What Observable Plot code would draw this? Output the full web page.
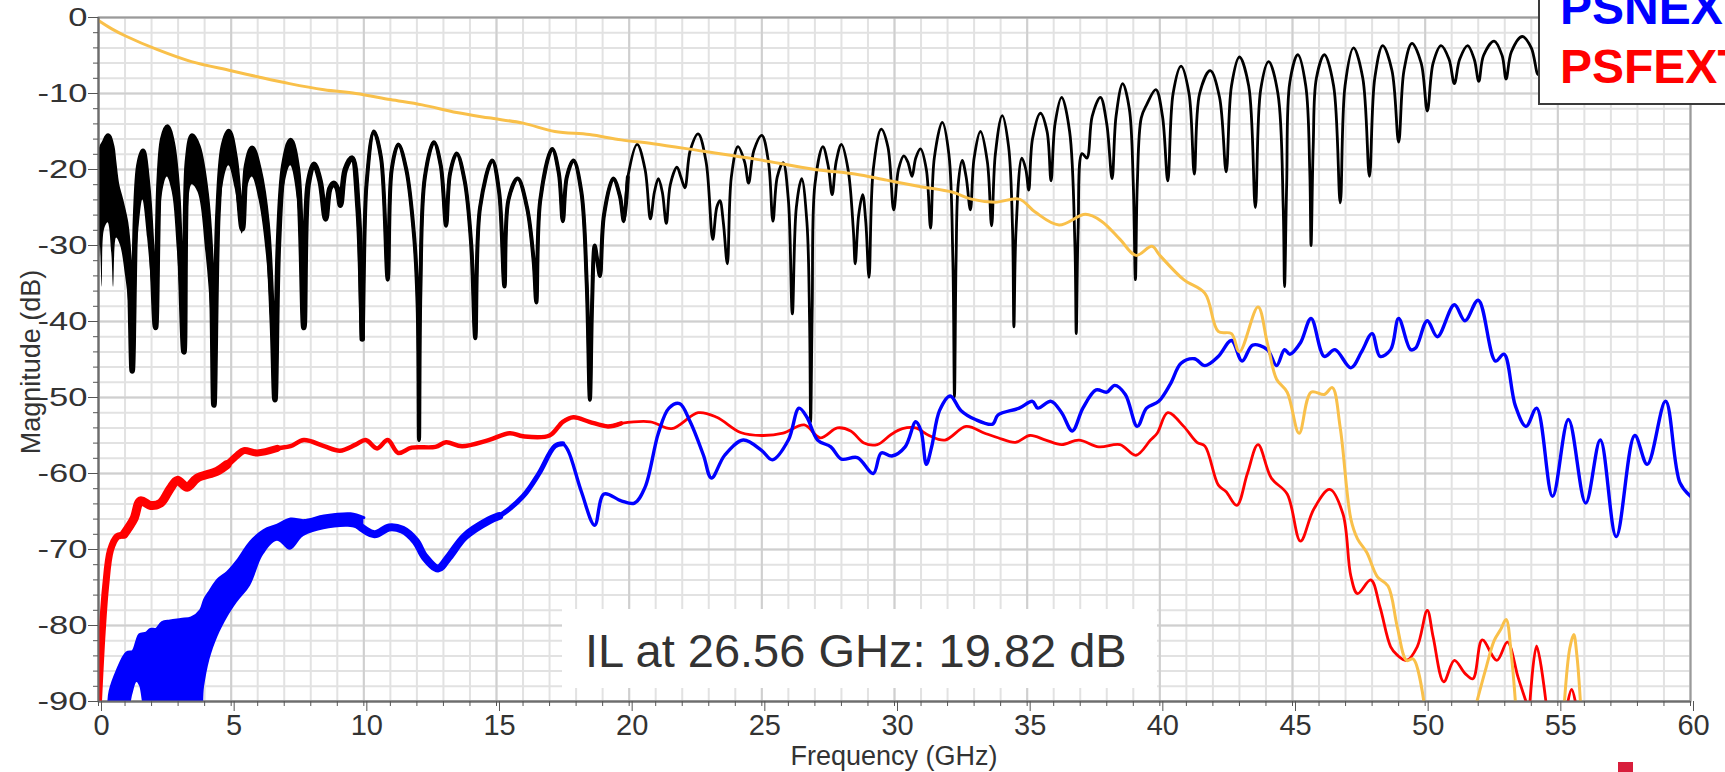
<!DOCTYPE html>
<html>
<head>
<meta charset="utf-8">
<script src="https://cdn.jsdelivr.net/npm/d3@7"></script>
<script src="https://cdn.jsdelivr.net/npm/@observablehq/plot@0.6"></script>
<style>
html,body{margin:0;padding:0;background:#fff;overflow:hidden;}
#wrap{position:relative;width:1725px;height:772px;overflow:hidden;font-family:"Liberation Sans",Arial,sans-serif;}
#chart svg{display:block;}
.legend{position:absolute;left:1538px;top:-40px;width:240px;height:145px;background:#fff;border:2px solid #3a3a3a;box-sizing:border-box;}
.lg{position:absolute;left:1560px;font-weight:bold;font-size:48px;line-height:48px;white-space:nowrap;}
.note{position:absolute;left:562px;top:609px;width:595px;height:79px;background:#fff;}
.noteText{position:absolute;left:585px;top:627px;font-size:47px;line-height:47px;color:#333;white-space:nowrap;}
.xt{position:absolute;left:0;width:1788px;top:742px;text-align:center;font-size:27px;line-height:28px;color:#333;}
.yt{position:absolute;left:31px;top:362px;font-size:27px;line-height:28px;color:#333;white-space:nowrap;transform:translate(-50%,-50%) rotate(-90deg);}
.mark{position:absolute;left:1618px;top:762px;width:15px;height:10px;background:#d81e3c;}
</style>
</head>
<body>
<div id="wrap">
  <div id="chart"></div>
  <div class="note"></div>
  <div class="noteText">IL at 26.56 GHz: 19.82 dB</div>
  <div class="legend"></div>
  <div class="lg" style="top:-16px;color:#0000ff">PSNEXT</div>
  <div class="lg" style="top:43px;color:#ff0000">PSFEXT</div>
  <div class="xt">Frequency (GHz)</div>
  <div class="yt">Magnitude (dB)</div>
  <div class="mark"></div>
</div>
<script>
// ---- tick labels ----
const xTicks = [0, 5, 10, 15, 20, 25, 30, 35, 40, 45, 50, 55, 60];
const yTicks = [0, -10, -20, -30, -40, -50, -60, -70, -80, -90];

// ---- insertion loss (orange) ----
const ilFreq = [0.0,0.5,1.0,2.2,3.5,5.0,6.0,7.2,8.5,9.7,11.0,12.2,13.5,14.7,16.0,17.2,18.5,19.7,20.9,22.8,24.7,27.0,28.5,29.7,30.9,32.2,32.9,33.8,34.7,35.3,36.2,37.2,37.8,38.5,39.1,39.7,40.0,40.9,41.7,42.2,42.7,43.0,43.7,44.05,44.4,44.8,45.25,45.7,46.2,46.5,46.8,47.2,47.45,47.8,48.2,48.6,48.95,49.3,49.55,49.95,51.0,51.95,52.3,52.6,52.85,53.05,53.25,53.4,54.3,55.25,55.45,55.6,55.72,55.85];
const ilDb   = [-0.4,-1.5,-2.4,-4.2,-5.8,-7.0,-7.8,-8.7,-9.5,-10.0,-10.8,-11.5,-12.5,-13.2,-13.9,-15.0,-15.4,-16.1,-16.6,-17.6,-18.6,-20.0,-20.6,-21.4,-22.2,-23.0,-23.9,-24.3,-23.9,-25.6,-27.3,-25.9,-26.8,-29.2,-31.3,-30.1,-31.3,-34.5,-36.3,-41.3,-41.6,-44.0,-38.1,-42.8,-47.6,-49.3,-54.7,-49.3,-49.6,-48.7,-54.0,-66.0,-68.6,-70.4,-73.6,-74.8,-80.2,-84.6,-84.4,-90,null,-90,-85.5,-82.0,-80.5,-79.2,-84.0,-90,null,-90,-83.0,-81.2,-84.0,-90];

// ---- return loss (black): upper trace ----
const rlFreq = [0.00,0.07,0.14,0.22,0.36,0.50,0.57,0.68,0.83,1.02,1.15,1.27,1.40,1.52,1.67,1.85,2.00,2.15,2.28,2.42,2.59,2.78,2.98,3.22,3.35,3.53,3.75,4.05,4.25,4.35,4.50,4.70,4.91,5.15,5.42,5.58,5.79,6.05,6.35,6.55,6.65,6.78,6.98,7.24,7.50,7.74,7.90,8.12,8.35,8.56,8.72,8.87,9.00,9.12,9.30,9.56,9.78,9.94,10.10,10.38,10.65,10.90,11.05,11.30,11.60,11.90,12.03,12.08,12.13,12.30,12.64,12.90,13.10,13.25,13.50,13.80,14.05,14.20,14.38,14.84,15.10,15.30,15.45,15.80,16.15,16.40,16.50,16.65,17.10,17.35,17.50,17.65,17.90,18.20,18.40,18.52,18.60,18.70,18.80,18.90,19.05,19.40,19.65,19.80,19.95,20.30,20.60,20.80,20.95,21.10,21.25,21.40,21.55,21.80,21.95,22.10,22.30,22.60,22.90,23.15,23.30,23.42,23.55,23.70,23.85,24.10,24.35,24.50,24.70,25.00,25.25,25.42,25.58,25.80,26.00,26.15,26.30,26.50,26.70,26.80,26.84,26.90,27.00,27.30,27.50,27.65,27.80,28.00,28.25,28.45,28.52,28.65,28.80,28.92,29.04,29.20,29.50,29.75,29.97,30.15,30.35,30.50,30.66,30.80,30.98,31.20,31.36,31.50,31.80,32.05,32.20,32.26,32.32,32.40,32.55,32.70,32.86,33.00,33.24,33.50,33.66,33.80,34.06,34.30,34.45,34.50,34.58,34.80,34.95,35.06,35.20,35.50,35.75,35.90,36.05,36.30,36.60,36.80,36.85,36.92,37.07,37.25,37.45,37.76,38.00,38.20,38.35,38.60,38.85,39.00,39.08,39.15,39.30,39.50,39.85,40.10,40.30,40.50,40.80,41.10,41.30,41.50,41.90,42.25,42.50,42.70,43.00,43.35,43.60,43.80,44.10,44.45,44.65,44.70,44.78,44.90,45.20,45.50,45.65,45.70,45.78,45.90,46.20,46.55,46.80,46.98,47.30,47.65,47.90,48.10,48.40,48.75,49.00,49.20,49.50,49.85,50.08,50.30,50.60,50.90,51.10,51.30,51.60,51.85,52.02,52.20,52.60,52.90,53.05,53.25,53.66,54.00,54.25,54.40];
const rlDb   = [-22,-18,-17,-16.5,-15.6,-17,-19,-22,-24,-27,-32,-46.5,-26,-19.5,-17.6,-22,-30,-40.8,-22,-16,-14.4,-16.5,-23,-44,-19,-15.6,-17,-23,-33,-51,-26,-17,-15,-18.5,-27.8,-19.5,-17.2,-20,-27,-40,-50.3,-30,-19.5,-16.2,-20,-40.8,-22,-19.3,-21.5,-26.5,-22.5,-21.8,-22.5,-24.7,-20,-18.5,-25,-42.3,-22,-15,-18.5,-34.5,-20,-16.7,-20,-29,-38,-55.6,-36,-21,-16.4,-19.5,-27.4,-20.5,-17.9,-21.5,-30,-42.2,-25,-18.8,-23,-35.4,-24,-21.2,-25,-32,-37.5,-24,-17.3,-20.5,-26.8,-21,-18.8,-23,-35,-50.3,-38,-30,-32,-34,-26,-21.2,-23.5,-26.8,-21,-16.7,-20,-26.5,-23,-21.2,-23,-27.1,-22,-19.7,-21,-22.4,-17.5,-15.3,-19,-29.2,-25,-24.1,-27,-32.4,-21,-17.0,-19,-21.8,-17.5,-15.5,-19,-26.8,-21,-19.1,-24,-39,-25,-21.2,-27,-40,-53.2,-38,-22,-17.0,-19.5,-23.3,-19,-16.7,-20,-28,-32.4,-26,-23.3,-27,-34.2,-20,-14.7,-17,-25.3,-20,-18.2,-19,-20.9,-18.5,-17.3,-20,-27.7,-18.5,-13.8,-18,-32,-49.9,-32,-22,-18.8,-21,-25.3,-18.5,-15.0,-19,-27.4,-18,-12.9,-17,-28,-40.7,-28,-18.5,-20,-22.7,-16,-12.6,-15,-21.5,-14,-10.5,-15,-30,-41.6,-28,-17.9,-18.5,-13,-10.5,-14,-21.2,-13,-8.7,-12,-22,-34.5,-22,-13.2,-11.5,-9.5,-13,-21.5,-10,-6.4,-10,-20.6,-10,-7.0,-10.5,-20.3,-9,-5.2,-9,-25,-9.5,-5.8,-10,-25,-35.4,-22,-8.5,-4.9,-9,-20,-30,-17,-8,-4.9,-9,-24.4,-9,-4.0,-8,-20.9,-8,-3.7,-7,-16.4,-7,-3.4,-6,-12.3,-6,-3.7,-5.5,-8.7,-5.5,-3.7,-5.5,-8.4,-5,-3.1,-5,-8.1,-4.5,-2.5,-4,-7.5,-5];
// lower edge of the dense black band (first 46 frequencies of rlFreq, 0 - 7.74 GHz)
const rlLowDb = [-36,-30,-35.5,-28,-27,-31,-35.5,-29,-30,-34,-38,-46.5,-34,-28,-24,-29,-35,-40.8,-30,-23,-21,-23,-31,-44,-28,-22,-23,-31,-40,-51,-34,-22,-19.5,-22.5,-28.5,-23,-21,-24,-32,-44,-50.3,-35,-23,-19.5,-24,-40.8];

// ---- PSNEXT (blue) ----
const nextBandFreq = [0.39,0.44,0.70,1.06,1.30,1.45,1.55,1.80,1.96,2.17,2.40,2.70,3.10,3.50,3.85,4.00,4.20,4.50,4.86,5.23,5.73,6.23,6.74,7.24,7.74,8.50,9.50,10.0];
const nextBandHi   = [-90,-88.6,-86,-83.6,-83.4,-82,-81.2,-81,-80.5,-80.5,-79.6,-79.4,-79.2,-79,-78,-76.6,-75.5,-74,-73,-71.5,-69,-67.5,-66.8,-66,-66.2,-65.6,-65.3,-65.8];
const nextBandLo   = [-90.5,-92,-92,-92,-89,-87.5,-88,-92,-92,-92,-92,-92,-92,-92,-92,-88,-84.5,-81.5,-79,-77,-74.8,-70.7,-68.9,-70.1,-68.3,-67.4,-67.1,-67.6];
const nextFreq = [9.69,10.4,10.95,11.45,11.95,12.3,12.8,13.2,13.8,14.7,15.1,16.0,16.6,17.2,17.5,17.7,18.2,18.7,19.05,19.7,20.2,20.6,21.1,21.5,21.9,22.3,22.8,23.1,23.6,24.3,25.0,25.4,26.0,26.4,26.7,27.1,27.6,28.0,28.6,29.2,29.5,29.9,30.4,30.8,31.0,31.2,31.4,31.7,32.1,32.5,33.05,33.7,33.9,34.7,35.2,35.4,35.9,36.3,36.7,37.1,37.6,38.0,38.3,38.7,39.15,39.5,39.96,40.4,40.8,41.3,41.7,42.2,42.7,43.1,43.5,44.05,44.4,44.7,44.9,45.3,45.7,46.2,46.6,47.2,47.6,48.0,48.3,48.7,49.0,49.45,49.64,50.08,50.46,51.1,51.5,52.0,52.65,52.97,53.4,53.8,54.2,54.8,55.4,56.05,56.6,57.2,57.9,58.37,59.06,59.6,60.0];
const nextDb   = [-66.5,-68,-67.1,-67.4,-68.9,-71.0,-72.5,-71.0,-68.3,-66.2,-65.6,-63.0,-60.0,-56.4,-56.1,-57.0,-62.4,-66.8,-62.7,-63.6,-63.9,-61.8,-54.7,-51.4,-50.8,-53.2,-57.6,-60.6,-57.6,-55.6,-57.0,-58.2,-55.6,-51.4,-52.6,-55.6,-56.5,-58.1,-57.9,-60.0,-57.3,-57.7,-56.5,-53.2,-54.4,-58.8,-56.5,-51.7,-49.8,-51.7,-52.9,-53.5,-52.3,-51.4,-50.5,-51.4,-50.5,-52,-54.4,-51.4,-49.0,-49.3,-48.4,-49.6,-53.8,-51.4,-50.5,-48.2,-45.5,-44.9,-45.8,-44.6,-42.5,-45.2,-43.1,-43.7,-45.8,-43.7,-44.3,-42.8,-39.6,-44.6,-43.7,-46.1,-44.0,-41.6,-44.6,-43.7,-39.6,-43.7,-43.5,-39.9,-42.0,-37.8,-39.9,-37.2,-45.2,-44.3,-51.1,-53.8,-51.4,-63.0,-52.9,-63.9,-55.6,-68.3,-55.0,-58.8,-50.5,-61.2,-63.0];

// ---- PSFEXT (red) ----
const fextFreq = [0.00,0.14,0.27,0.45,0.70,0.96,1.33,1.58,1.96,2.34,2.70,2.97,3.34,3.72,4.47,4.85,5.23,5.48,5.98,6.74,7.24,7.74,8.5,9.1,9.69,10.07,10.5,10.9,11.3,11.8,12.7,13.1,13.7,14.7,15.5,16.0,17.0,17.5,17.9,18.5,19.2,19.7,20.8,21.6,22.6,23.3,24.2,25.0,25.8,26.6,27.2,27.85,28.35,28.85,29.35,29.86,30.3,30.8,31.3,31.9,32.7,33.4,33.9,34.56,35.1,35.7,36.3,36.95,37.7,38.5,39.1,39.65,39.9,40.3,40.9,41.4,41.7,42.2,42.5,42.9,43.3,43.7,44.2,44.8,45.3,45.8,46.4,46.9,47.2,47.45,47.95,48.3,48.7,48.95,49.3,49.7,50.08,50.3,50.7,51.1,51.5,51.8,52.15,52.7,53.1,53.5,53.8,53.88,53.95,54.2,54.55,55.0,55.38,55.52,55.66];
const fextDb   = [-90,-80.8,-74.8,-70.1,-68.3,-68,-66,-63.6,-64.2,-63.9,-62,-60.9,-61.8,-60.6,-59.7,-58.8,-57.6,-57.0,-57.3,-56.7,-56.4,-55.6,-56.4,-57.0,-56.2,-55.6,-56.7,-55.6,-57.3,-56.6,-56.5,-55.9,-56.4,-55.6,-54.7,-55.1,-55.0,-53.2,-52.6,-53.2,-53.8,-53.4,-53.2,-54.1,-52.0,-52.6,-54.6,-55.0,-54.7,-53.6,-55.3,-54.0,-54.4,-56.0,-56.2,-54.9,-54.1,-54.0,-55.0,-55.6,-53.8,-54.7,-55.3,-55.9,-55.0,-55.6,-56.2,-55.6,-56.5,-56.2,-57.6,-55.6,-54.7,-52.0,-53.8,-55.9,-56.4,-61.5,-62.4,-64.2,-60.0,-56.2,-60.6,-62.7,-68.9,-64.7,-62.1,-65.3,-73.5,-75.8,-74.0,-77.6,-82.8,-83.9,-84.6,-82.8,-78.0,-81.5,-87.4,-84.6,-86.3,-87.0,-81.9,-84.6,-82.2,-86.8,-90,null,-90,-82.7,-90,null,-90,-88.4,-90];

// ---- rows built from the arrays ----
const rows = (fs, ds) => fs.map((f, i) => ({f, db: ds[i]}));
const il = rows(ilFreq, ilDb);
const rl = rows(rlFreq, rlDb);
const rlBand = rlLowDb.map((lo, i) => ({f: rlFreq[i], hi: rlDb[i], lo}));
const next = rows(nextFreq, nextDb);
const fext = rows(fextFreq, fextDb);
const nextBand = nextBandFreq.map((f, i) => ({f, lo: nextBandLo[i], hi: nextBandHi[i]}));

const xMinor = d3.range(0, 61, 1);
const yMinor = d3.range(-90, 1, 2);
const fmt = d => String(d);

const line = (data, color, width, filter) =>
  Plot.line(data, {x: "f", y: "db", stroke: color, strokeWidth: width, curve: "catmull-rom", clip: true, filter, strokeLinejoin: "round", strokeLinecap: "round"});

const chart = Plot.plot({
  width: 1725,
  height: 772,
  marginLeft: 98,
  marginRight: 35,
  marginTop: 17,
  marginBottom: 71,
  style: {fontFamily: "Liberation Sans, Arial, sans-serif", color: "#333", background: "#fff", overflow: "visible"},
  x: {domain: [0, 60]},
  y: {domain: [-90, 0]},
  marks: [
    Plot.gridX(xMinor, {stroke: "#e2e2e2", strokeOpacity: 1, strokeWidth: 2}),
    Plot.gridY(yMinor, {stroke: "#e2e2e2", strokeOpacity: 1, strokeWidth: 2}),
    Plot.gridX(xTicks, {stroke: "#cfcfcf", strokeOpacity: 1, strokeWidth: 2}),
    Plot.gridY(yTicks, {stroke: "#cfcfcf", strokeOpacity: 1, strokeWidth: 2}),
    Plot.frame({stroke: "#9a9a9a", strokeWidth: 2}),
    // black return loss
    Plot.areaY(rlBand, {x: "f", y1: "lo", y2: "hi", fill: "#000", curve: "catmull-rom", clip: true}),
    line(rl, "#000", 2.8),
    line(rl, "#000", 4, d => d.f <= 20),
    line(rl, "#000", 5.5, d => d.f <= 10),
    // red PSFEXT
    line(fext, "#ff0000", 2.8),
    line(fext, "#ff0000", 4.5, d => d.f <= 20),
    line(fext, "#ff0000", 7, d => d.f <= 7),
    line(fext, "#ff0000", 9, d => d.f >= 0.9 && d.f <= 5),
    // blue PSNEXT
    Plot.areaY(nextBand, {x: "f", y1: "lo", y2: "hi", fill: "#0000ff", curve: "catmull-rom", clip: true}),
    Plot.line(nextBand, {x: "f", y: "hi", stroke: "#0000ff", strokeWidth: 3, curve: "catmull-rom", clip: true}),
    line(next, "#0000ff", 3.4),
    line(next, "#0000ff", 8, d => d.f <= 15.5),
    line(next, "#0000ff", 5, d => d.f <= 17.6),
    // orange IL
    line(il, "#f9c04a", 3),
    Plot.ruleX([0], {stroke: "#6d6d6d", strokeWidth: 2}),
    Plot.ruleY([-90], {stroke: "#6d6d6d", strokeWidth: 2}),
    Plot.axisY(yMinor, {tickSize: 5, tickFormat: () => "", label: null, stroke: "#555"}),
    Plot.axisY(yTicks, {tickSize: 10, tickPadding: 1, tickFormat: fmt, label: null, fontSize: 26, stroke: "#555"}),
    Plot.axisX(xMinor, {tickSize: 5, tickFormat: () => "", label: null, stroke: "#555"}),
    Plot.axisX(xTicks, {tickSize: 10, tickPadding: 3, tickFormat: fmt, label: null, fontSize: 29, dx: 3, stroke: "#555"})
  ]
});
document.getElementById("chart").appendChild(chart);

// the y tick labels of the original are drawn horizontally wider
chart.querySelectorAll('g[aria-label="y-axis tick label"] text').forEach(t => {
  const w = t.getComputedTextLength();
  if (w > 0) {
    t.setAttribute("textLength", (w * 1.33).toFixed(1));
    t.setAttribute("lengthAdjust", "spacingAndGlyphs");
  }
});
</script>
</body>
</html>
